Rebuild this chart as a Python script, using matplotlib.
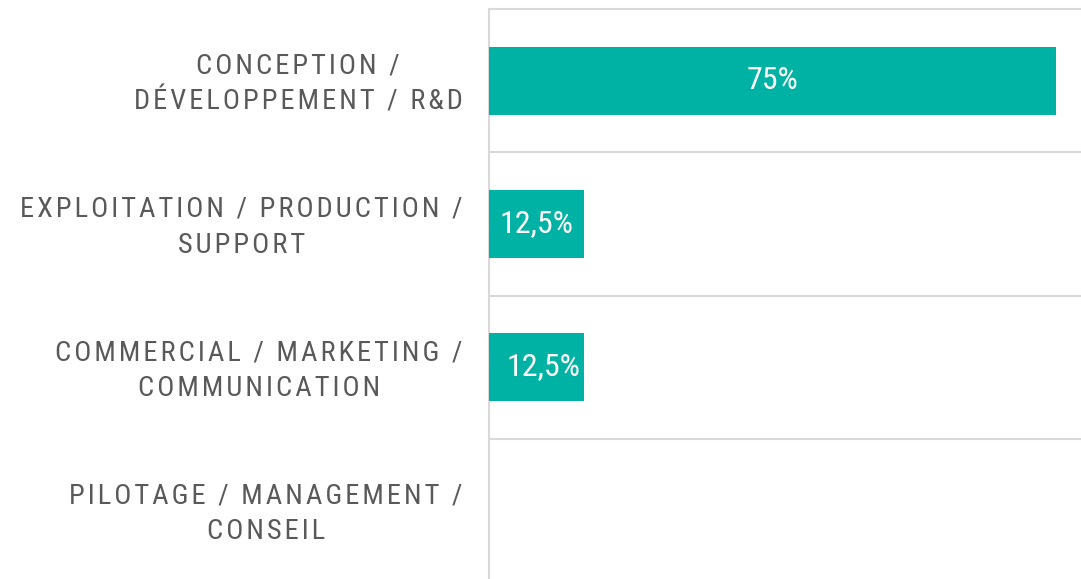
import matplotlib
matplotlib.use('Agg')
import matplotlib.pyplot as plt
from matplotlib import font_manager as fm
from matplotlib.transforms import ScaledTranslation

categories = ['CONCEPTION /\nDÉVELOPPEMENT / R&D',
              'EXPLOITATION / PRODUCTION /\nSUPPORT',
              'COMMERCIAL / MARKETING /\nCOMMUNICATION',
              'PILOTAGE / MANAGEMENT /\nCONSEIL']
values = [75, 12.5, 12.5, 0]
value_labels = ['75%', '12,5%', '12,5%', '']
label_shift = [0, 0, 7, 0]  # the last label sits a bit to the right


# look for any installed narrow / condensed sans font
def pick_narrow():
    names = ['Liberation Sans Narrow', 'Roboto Condensed', 'Open Sans Condensed',
             'Noto Sans Condensed', 'Arial Narrow']
    for n in names:
        try:
            fm.findfont(fm.FontProperties(family=n), fallback_to_default=False)
            return n, 'normal'
        except ValueError:
            pass
    for f in fm.fontManager.ttflist:
        if f.stretch == 'condensed' and f.style == 'normal' and \
                f.weight in (400, 'normal') and 'Sans' in f.name and 'Mono' not in f.name:
            return f.name, 'condensed'
    return 'Roboto', 'normal'


main_font, stretch = pick_narrow()
plt.rcParams['font.family'] = [main_font, 'DejaVu Sans']
plt.rcParams['font.stretch'] = stretch


def tracked(text, gap='\u200a'):
    # crude letter spacing
    return '\n'.join(gap.join(line) for line in text.split('\n'))


teal = '#00b2a4'
grid_c = '#d9d9d9'

fig = plt.figure(figsize=(10.81, 5.79), dpi=100)
ax = fig.add_axes([489 / 1081, -3 / 579, 605 / 1081, 573 / 579])

ypos = list(range(len(categories)))
ax.barh(ypos, values, height=0.475, color=teal, zorder=3)
ax.set_xlim(0, 80)
ax.set_ylim(3.5, -0.5)

for y, v, lab, dx in zip(ypos, values, value_labels, label_shift):
    if lab:
        ax.annotate(lab, (v / 2, y), xytext=(dx, 0), textcoords='offset pixels',
                    ha='center', va='center', color='white',
                    fontsize=23, zorder=4)

ax.set_yticks(ypos)
ax.set_yticklabels([tracked(c) for c in categories], fontsize=20.5,
                   color='#595959', multialignment='center', linespacing=1.42)
ax.tick_params(axis='y', length=0, pad=19)
# nudge the category labels up a little
up = ScaledTranslation(0, 4 / 100, fig.dpi_scale_trans)
for t in ax.get_yticklabels():
    t.set_transform(t.get_transform() + up)

ax.set_xticks([])
ax.set_yticks([0.5, 1.5, 2.5], minor=True)
ax.tick_params(axis='y', which='minor', length=0)
ax.grid(axis='y', which='minor', color=grid_c, linewidth=1.5)

for side in ['bottom', 'right']:
    ax.spines[side].set_visible(False)
for side in ['top', 'left']:
    ax.spines[side].set_color(grid_c)
    ax.spines[side].set_linewidth(1.5)

fig.savefig('out.png', dpi=100)
